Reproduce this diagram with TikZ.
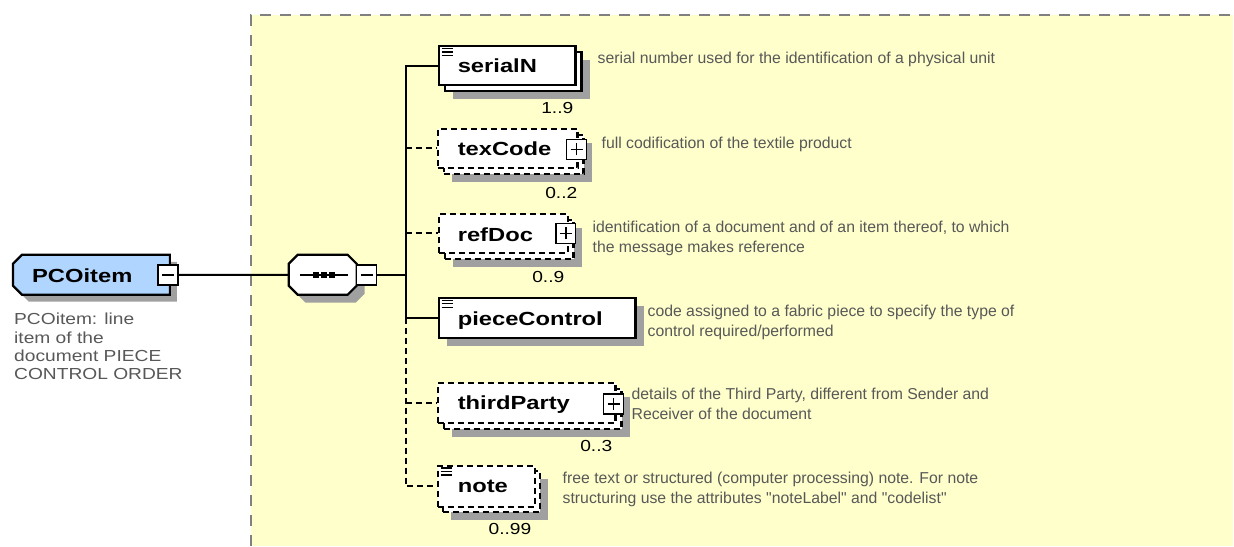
\documentclass[tikz,border=0pt]{standalone}
\usepackage{fontspec}
\setmainfont{Liberation Sans}
\newfontfamily\lblfamily[FakeStretch=1.25]{Liberation Sans}
\newfontfamily\widefamily[FakeStretch=1.2]{Liberation Sans}
\newfontfamily\descfamily{Liberation Sans}
\usetikzlibrary{shadows}
\definecolor{bgyellow}{RGB}{255,255,204}
\definecolor{bordergray}{RGB}{128,128,128}
\definecolor{shadowgray}{RGB}{160,160,160}
\definecolor{descgray}{RGB}{88,88,88}
\definecolor{pcoblue}{RGB}{176,214,255}
\newcommand\twolines[2]{\begin{tabular}[t]{@{}l@{}}#1\\#2\end{tabular}}
\begin{document}
\begin{tikzpicture}[x=1pt,y=-1pt,
  ebox/.style={draw=black, line width=2.2pt, fill=white, inner sep=0pt, anchor=north west},
  dbox/.style={ebox, dash pattern=on 6pt off 4pt},
  shad/.style={drop shadow={shadow xshift=8pt, shadow yshift=-8pt, fill=shadowgray, opacity=1}},
  lbl/.style={font=\lblfamily\bfseries\fontsize{19}{22}\selectfont, anchor=base west, inner sep=0pt},
  desc/.style={font=\descfamily\fontsize{15.8}{20}\selectfont, text=descgray, anchor=base west, inner sep=0pt},
  pcodesc/.style={font=\widefamily\fontsize{16}{18.3}\selectfont, text=descgray, anchor=base west, inner sep=0pt},
  mult/.style={font=\widefamily\fontsize{16}{18}\selectfont, anchor=base east, inner sep=0pt},
  pmbox/.style={draw=black, fill=white, line width=1.6pt, minimum width=20pt, minimum height=20pt, inner sep=0pt},
  minus/.style={pmbox, path picture={\draw[line width=1.6pt] ([xshift=-6pt]path picture bounding box.center) -- ([xshift=6pt]path picture bounding box.center);}},
  plus/.style={pmbox, path picture={\draw[line width=1.6pt] ([xshift=-6pt]path picture bounding box.center) -- ([xshift=6pt]path picture bounding box.center) ([yshift=-6pt]path picture bounding box.center) -- ([yshift=6pt]path picture bounding box.center);}},
  icon/.style={line width=1.4pt},
  conn/.style={line width=2pt},
  dconn/.style={conn, dash pattern=on 6pt off 4pt},
  anchorbox/.style={inner sep=0pt, anchor=north west}
]
% background
\fill[white] (0,0) rectangle (1234,546);
\fill[bgyellow] (251,15) rectangle (1234,546);
\draw[bordergray, line width=2.2pt, dash pattern=on 11pt off 9pt] (251,546) -- (251,15) -- (1234,15);

% PCOitem
\fill[shadowgray, shift={(7,7)}] (22,255) -- (170,255) -- (170,295) -- (22,295) -- (13,286) -- (13,264) -- cycle;
\draw[line width=2.2pt, fill=pcoblue] (22,255) -- (170,255) -- (170,295) -- (22,295) -- (13,286) -- (13,264) -- cycle;
\node[anchorbox, minimum width=157pt, minimum height=40pt] (PCOitem) at (13,255) {};
\node[lbl] (PCOlabel) at (32,283) {PCOitem};
\node[minus] (pcoMinus) at (168,275) {};
\node[pcodesc] (PCOdesc) at (14,325) {\begin{tabular}[t]{@{}l@{}}PCOitem: line\\item of the\\document PIECE\\CONTROL ORDER\end{tabular}};

% sequence compositor
\fill[shadowgray, shift={(8,8)}] (298,255) -- (348,255) -- (357,264) -- (357,286) -- (348,295) -- (298,295) -- (289,286) -- (289,264) -- cycle;
\draw[line width=2.2pt, fill=white] (298,255) -- (348,255) -- (357,264) -- (357,286) -- (348,295) -- (298,295) -- (289,286) -- (289,264) -- cycle;
\node[anchorbox, minimum width=68pt, minimum height=40pt] (seq) at (289,255) {};
\draw[line width=1.8pt] (300,275) -- (348,275);
\foreach \x in {316,324,332} \fill (\x-3,272) rectangle (\x+3,278);
\node[minus] (seqMinus) at (367,275) {};
\coordinate (trunk) at (406,275);

% serialN
\node[ebox, shad, minimum width=137pt, minimum height=39pt] (serialNback) at (444,51) {};
\node[ebox, minimum width=137pt, minimum height=39pt] (serialN) at (438,45) {};
\draw[icon] ([shift={(4,3.5)}]serialN.north west) -- ++(11,0) ++(-11,3.5) -- ++(11,0) ++(-11,3.5) -- ++(11,0);
\node[lbl] (serialNlbl) at (458,73) {serialN};
\node[mult] (serialNmult) at (574,114) {1..9};
\node[desc] (serialNdesc) at (598,64) {serial number used for the identification of a physical unit};

% texCode
\node[dbox, shad, minimum width=140pt, minimum height=39pt] (texCodeback) at (443,134) {};
\node[dbox, minimum width=140pt, minimum height=39pt] (texCode) at (437,128) {};
\node[plus] (texCodePlus) at ([xshift=-2pt,yshift=-1pt]texCode.east) {};
\node[lbl] (texCodelbl) at (458,156) {texCode};
\node[mult] (texCodemult) at (578,199) {0..2};
\node[desc] (texCodedesc) at (602,149) {full codification of the textile product};

% refDoc
\node[dbox, shad, minimum width=129pt, minimum height=39pt] (refDocback) at (444,219) {};
\node[dbox, minimum width=129pt, minimum height=39pt] (refDoc) at (438,213) {};
\node[plus] (refDocPlus) at ([xshift=-3pt]refDoc.east) {};
\node[lbl] (refDoclbl) at (458,242) {refDoc};
\node[mult] (refDocmult) at (565,283) {0..9};
\node[desc] (refDocdesc) at (593,233) {\twolines{identification of a document and of an item thereof, to which}{the message makes reference}};

% pieceControl
\node[ebox, shad, minimum width=197pt, minimum height=40pt] (pieceControl) at (438,297) {};
\draw[icon] ([shift={(4,3.5)}]pieceControl.north west) -- ++(11,0) ++(-11,3.5) -- ++(11,0) ++(-11,3.5) -- ++(11,0);
\node[lbl] (pieceControllbl) at (458,326) {pieceControl};
\node[desc] (pieceControldesc) at (648,317) {\twolines{code assigned to a fabric piece to specify the type of}{control required/performed}};

% thirdParty
\node[dbox, shad, minimum width=178pt, minimum height=40pt] (thirdPartyback) at (443,388) {};
\node[dbox, minimum width=178pt, minimum height=40pt] (thirdParty) at (437,382) {};
\node[plus] (thirdPartyPlus) at ([xshift=-3pt,yshift=-1pt]thirdParty.east) {};
\node[lbl] (thirdPartylbl) at (458,410) {thirdParty};
\node[mult] (thirdPartymult) at (613,452) {0..3};
\node[desc] (thirdPartydesc) at (632,400) {\twolines{details of the Third Party, different from Sender and}{Receiver of the document}};

% note
\node[dbox, shad, minimum width=97pt, minimum height=41pt] (noteback) at (442,470) {};
\node[dbox, minimum width=97pt, minimum height=41pt] (note) at (437,465) {};
\draw[icon] ([shift={(4,3.5)}]note.north west) -- ++(11,0) ++(-11,3.5) -- ++(11,0) ++(-11,3.5) -- ++(11,0);
\node[lbl] (notelbl) at (458,493) {note};
\node[mult] (notemult) at (532,535) {0..99};
\node[desc] (notedesc) at (563,484) {\twolines{free text or structured (computer processing) note. For note}{structuring use the attributes "noteLabel" and "codelist"}};

% connectors
\draw[conn] (pcoMinus.east) -- (seq.west);
\draw[conn] (seqMinus.east) -- (trunk);
\draw[conn] (serialN.west) -- (serialN.west -| trunk) -- (pieceControl.west -| trunk) -- (pieceControl.west);
\draw[dconn] (pieceControl.west -| trunk) -- (note.west -| trunk) -- (note.west);
\draw[dconn] (texCode.west -| trunk) -- (texCode.west);
\draw[dconn] (refDoc.west -| trunk) -- (refDoc.west);
\draw[dconn] (thirdParty.west -| trunk) -- (thirdParty.west);
\end{tikzpicture}
\end{document}
